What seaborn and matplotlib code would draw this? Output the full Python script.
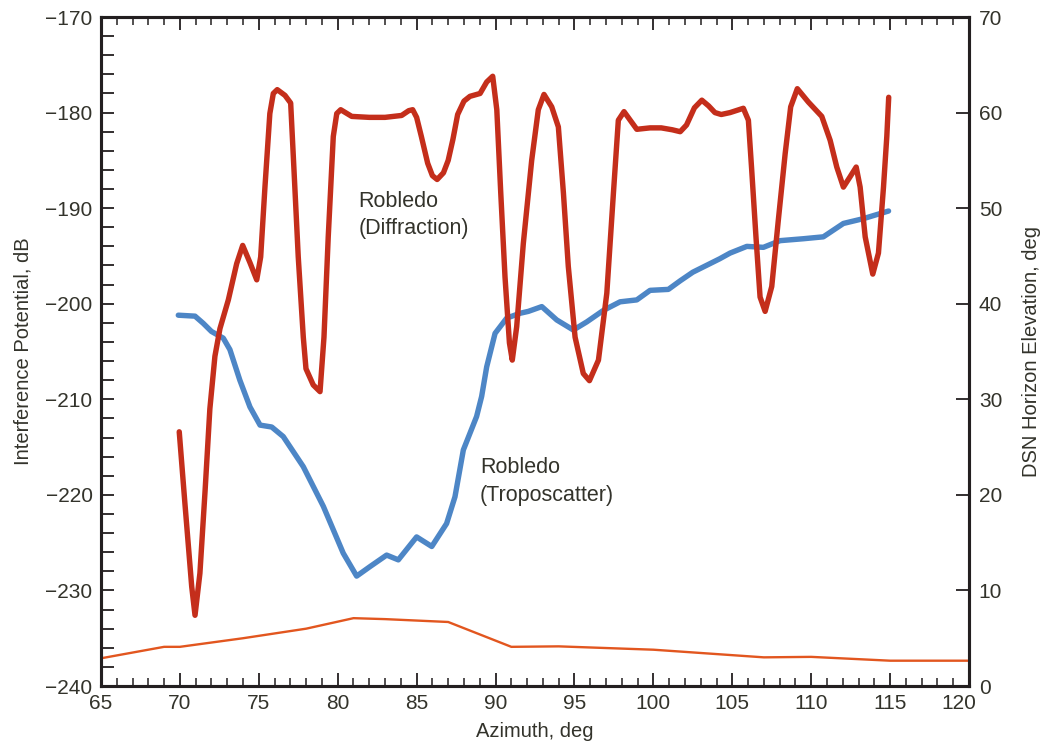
import numpy as np
import pandas as pd
import seaborn as sns
import matplotlib.transforms as mtransforms
from matplotlib import pyplot as plt
from matplotlib.ticker import MultipleLocator

# Robledo diffraction interference potential (dB)
diff_az = [69.96, 70.32, 70.75, 70.96, 71.27, 71.6, 71.9, 72.22, 72.54, 73.07, 73.6, 73.98,
           74.44, 74.87, 75.12, 75.39, 75.7, 75.92, 76.17, 76.66, 77.02, 77.23, 77.5, 77.82,
           77.99, 78.45, 78.88, 79.13, 79.4, 79.72, 79.94, 80.19, 80.89, 82.0, 83.0, 84.05,
           84.5, 84.75, 85.0, 85.3, 85.7, 86.0, 86.3, 86.7, 87.0, 87.3, 87.6, 88.0, 88.38,
           89.02, 89.44, 89.82, 90.08, 90.33, 90.6, 90.88, 91.06, 91.34, 91.76, 92.29, 92.71,
           93.07, 93.56, 93.98, 94.3, 94.61, 95.04, 95.56, 95.95, 96.52, 97.05, 97.47, 97.78,
           98.14, 98.95, 99.79, 100.5, 101.2, 101.7, 102.1, 102.6, 103.07, 103.5, 103.9,
           104.3, 104.86, 105.7, 106.02, 106.23, 106.5, 106.76, 107.08, 107.5, 107.92,
           108.35, 108.7, 109.12, 109.82, 110.67, 111.2, 111.62, 112.04, 112.47, 112.85,
           113.1, 113.42, 113.9, 114.26, 114.58, 114.79, 114.91]
diff_db = [-213.4, -220.9, -229.6, -232.6, -228.2, -219.5, -211.0, -205.5, -202.6, -199.6,
           -195.8, -193.9, -195.7, -197.5, -195.1, -187.8, -180.1, -178.0, -177.6, -178.2,
           -179.0, -186.0, -195.1, -203.5, -206.8, -208.5, -209.2, -203.5, -193.0, -182.5,
           -180.1, -179.7, -180.4, -180.5, -180.5, -180.3, -179.8, -179.7, -180.5, -182.5,
           -185.3, -186.6, -187.0, -186.3, -185.0, -182.8, -180.2, -178.8, -178.3, -178.0,
           -176.8, -176.2, -179.7, -188.4, -197.2, -204.1, -205.9, -202.4, -193.7, -185.0,
           -179.7, -178.1, -179.4, -181.5, -188.4, -196.1, -203.5, -207.3, -208.05, -205.9,
           -198.9, -188.4, -180.8, -179.9, -181.75, -181.6, -181.6, -181.8, -182.0, -181.3,
           -179.5, -178.7, -179.3, -180.0, -180.2, -180.0, -179.55, -180.8, -186.0, -193.0,
           -199.3, -200.8, -198.2, -191.2, -184.3, -179.4, -177.5, -178.9, -180.4, -182.9,
           -185.7, -187.8, -186.7, -185.7, -187.8, -193.0, -196.9, -194.7, -187.8, -182.5,
           -178.4]

# Robledo troposcatter interference potential (dB)
tropo_az = [69.9, 70.96, 71.48, 72.0, 72.75, 73.17, 73.8, 74.44, 75.08, 75.82, 76.55, 77.82,
            79.09, 80.35, 81.2, 82.05, 83.1, 83.84, 85.0, 85.96, 86.9, 87.43, 87.96, 88.8,
            89.12, 89.44, 89.97, 90.71, 91.55, 92.08, 92.93, 93.88, 94.93, 95.78, 96.83,
            97.89, 98.95, 99.79, 100.95, 101.7, 102.5, 104.2, 104.86, 105.92, 106.97, 108.03,
            109.5, 110.77, 112.04, 113.3, 114.9]
tropo_db = [-201.2, -201.3, -202.05, -202.9, -203.6, -204.8, -208.0, -210.8, -212.7, -212.9,
            -213.9, -217.05, -221.2, -226.1, -228.5, -227.5, -226.3, -226.8, -224.4, -225.4,
            -223.0, -220.2, -215.3, -211.8, -209.7, -206.6, -203.1, -201.5, -201.0, -200.8,
            -200.3, -201.7, -202.75, -201.9, -200.7, -199.8, -199.6, -198.6, -198.5, -197.6,
            -196.7, -195.3, -194.7, -194.0, -194.1, -193.4, -193.2, -193.0, -191.6, -191.1,
            -190.3]

# DSN horizon elevation (deg), right axis
horizon_az = [65, 69, 70, 74, 78, 81, 83, 87, 91, 94, 100, 107, 110, 115, 120]
horizon_el = [2.9, 4.1, 4.1, 5.0, 6.0, 7.1, 7.0, 6.7, 4.1, 4.15, 3.8, 3.0, 3.05, 2.65, 2.65]

az_ticks = list(range(65, 121, 5))

text_color = '#33332b'
spine_color = '#231f20'

sns.set_style('white')
plt.rcParams['font.family'] = ['Liberation Sans', 'DejaVu Sans']
plt.rcParams['font.size'] = 15

fig = plt.figure(figsize=(10.44, 7.46), dpi=100)
ax = fig.add_axes([0.0967, 0.0804, 0.8315, 0.8968])
ax2 = ax.twinx()

df_diff = pd.DataFrame({'az': diff_az, 'db': diff_db})
df_tropo = pd.DataFrame({'az': tropo_az, 'db': tropo_db})
df_hor = pd.DataFrame({'az': horizon_az, 'el': horizon_el})

sns.lineplot(data=df_tropo, x='az', y='db', ax=ax, color='#4d86c6', lw=3.9,
             sort=False, estimator=None, solid_capstyle='round', solid_joinstyle='round')
sns.lineplot(data=df_diff, x='az', y='db', ax=ax, color='#c42e1b', lw=3.9,
             sort=False, estimator=None, solid_capstyle='round', solid_joinstyle='round')
sns.lineplot(data=df_hor, x='az', y='el', ax=ax2, color='#e2561f', lw=1.7,
             sort=False, estimator=None)

ax.set_xlim(65, 120)
ax.set_ylim(-240, -170)
ax2.set_ylim(0, 70)

ax.set_xticks(az_ticks)
ax.xaxis.set_minor_locator(MultipleLocator(1))
ax.yaxis.set_major_locator(MultipleLocator(10))
ax.yaxis.set_minor_locator(MultipleLocator(2))
ax2.yaxis.set_major_locator(MultipleLocator(10))

ax.tick_params(axis='x', which='major', direction='in', length=9.5, width=1.3,
               top=True, bottom=True, color=spine_color, labelcolor=text_color,
               labelsize=15, pad=6)
ax.tick_params(axis='x', which='minor', direction='in', length=5.8, width=1.1,
               top=True, bottom=True, color=spine_color)
ax.tick_params(axis='y', which='both', direction='in', length=9, width=1.3,
               left=True, right=False, color=spine_color, labelcolor=text_color,
               labelsize=15, pad=6)
ax2.tick_params(axis='y', which='major', direction='in', length=9.5, width=1.3,
                right=True, color=spine_color, labelcolor=text_color, labelsize=15, pad=7)

ax.set_yticklabels([f'\u2212{abs(int(v))}' for v in ax.get_yticks()])

# the last azimuth label sits a little left of its tick, clear of the right "0"
last = ax.xaxis.get_major_ticks()[len(az_ticks) - 1].label1
last.set_transform(last.get_transform() +
                   mtransforms.ScaledTranslation(-10 / 100, 0, fig.dpi_scale_trans))

for a in (ax, ax2):
    for s in a.spines.values():
        s.set_linewidth(2.2)
        s.set_color(spine_color)

ax.set_xlabel('Azimuth, deg', color=text_color, fontsize=14.5, labelpad=6)
ax.set_ylabel('Interference Potential, dB', color=text_color, fontsize=14.5, labelpad=9)
ax2.set_ylabel('DSN Horizon Elevation, deg', color=text_color, fontsize=14.5, labelpad=14)

ax.text(81.3, -190.7, 'Robledo\n(Diffraction)', color=text_color, fontsize=15.5,
        va='center', ha='left', linespacing=1.4)
ax.text(89.0, -218.6, 'Robledo\n(Troposcatter)', color=text_color, fontsize=15.5,
        va='center', ha='left', linespacing=1.4)

plt.savefig('out.png', dpi=100)
